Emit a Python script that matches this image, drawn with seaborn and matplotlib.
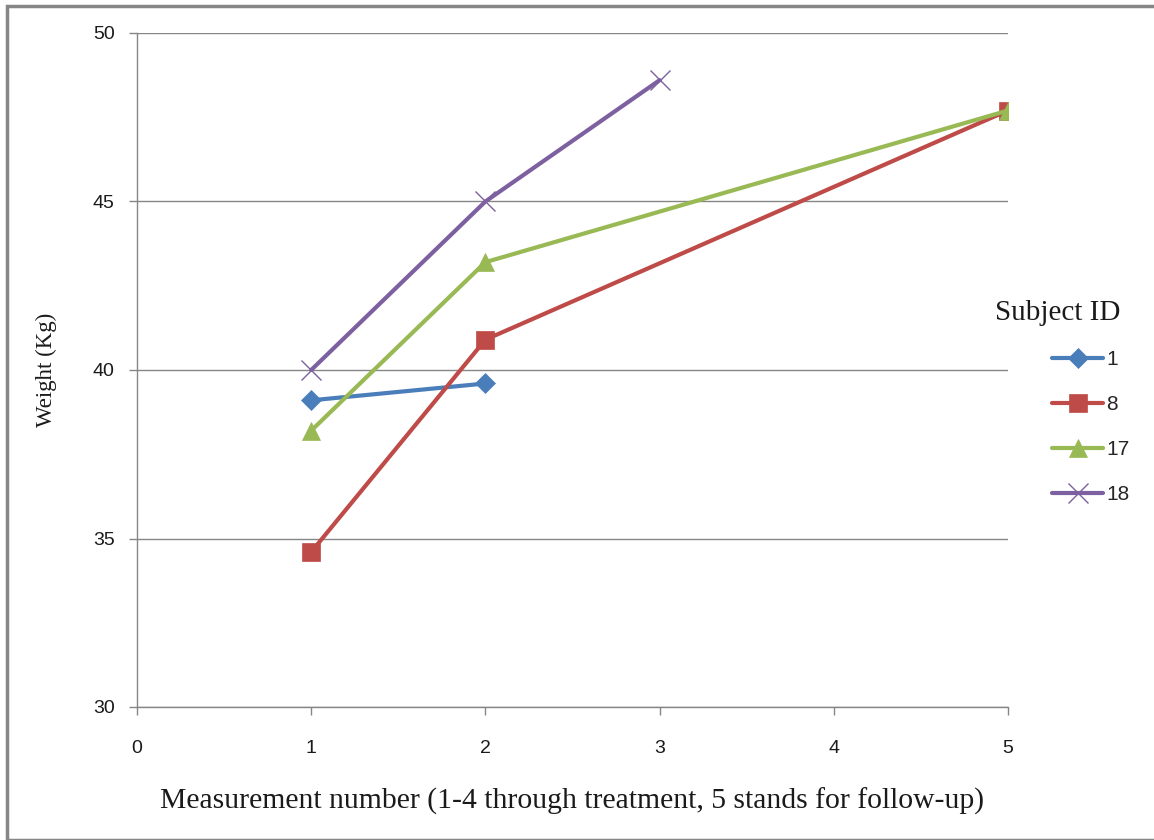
import matplotlib
matplotlib.use("Agg")
import matplotlib.pyplot as plt
import seaborn as sns
import pandas as pd
from matplotlib.patches import Rectangle

# Data
subject_ids = ["1", "8", "17", "18"]
x_1 = [1, 2];        y_1 = [39.1, 39.6]
x_8 = [1, 2, 5];     y_8 = [34.6, 40.9, 47.7]
x_17 = [1, 2, 5];    y_17 = [38.2, 43.2, 47.7]
x_18 = [1, 2, 3];    y_18 = [40.0, 45.0, 48.6]
x_ticks = [0, 1, 2, 3, 4, 5]
y_ticks = [30, 35, 40, 45, 50]

rows = []
for sid, xs, ys in zip(subject_ids, [x_1, x_8, x_17, x_18], [y_1, y_8, y_17, y_18]):
    for a, b in zip(xs, ys):
        rows.append({"Subject ID": sid, "x": a, "y": b})
df = pd.DataFrame(rows)

sns.set_style("white")
plt.rcParams["font.family"] = ["Liberation Sans", "DejaVu Sans"]

fig = plt.figure(figsize=(11.54, 8.40), dpi=100)
ax = fig.add_axes([137/1154, 1-707/840, (1008-137)/1154, (707-33)/840])

palette = {"1": "#4A7EBB", "8": "#BE4B48", "17": "#98B954", "18": "#7D60A0"}
markers = {"1": "D", "8": "s", "17": "^", "18": "x"}
sizes_map = {"1": 10, "8": 12.5, "17": 13, "18": 14}

for sid in subject_ids:
    sub = df[df["Subject ID"] == sid]
    sns.lineplot(data=sub, x="x", y="y", ax=ax, color=palette[sid], marker=markers[sid],
                 markersize=sizes_map[sid], linewidth=3, label=sid,
                 markeredgecolor=palette[sid],
                 markeredgewidth=1 if sid == "18" else 0.5, zorder=3)

ax.set_xlim(0, 5)
ax.set_ylim(30, 50)
ax.set_xticks(x_ticks)
ax.set_yticks(y_ticks)
ax.yaxis.grid(True, color="#868686", linewidth=1)
ax.xaxis.grid(False)
for s in ["top", "right"]:
    ax.spines[s].set_visible(False)
for s in ["left", "bottom"]:
    ax.spines[s].set_color("#868686")
    ax.spines[s].set_linewidth(1)
ax.tick_params(axis="both", which="both", direction="out", length=6, width=1,
               color="#868686", labelsize=14, labelcolor="#1a1a1a",
               bottom=True, left=True)
ax.tick_params(axis="x", pad=18)
ax.tick_params(axis="y", pad=10)

ax.set_xlabel("Measurement number (1-4 through treatment, 5 stands for follow-up)",
              family="Liberation Serif", fontsize=21.3, labelpad=22, color="#1a1a1a")
ax.set_ylabel("Weight (Kg)", family="Liberation Serif", fontsize=16.5, labelpad=26, color="#1a1a1a")

fig.text(995/1154, 1-313/840, "Subject ID", family="Liberation Serif", fontsize=21,
         ha="left", va="center", color="#1a1a1a")

leg = ax.legend(loc="upper left", bbox_to_anchor=(1052/1154, 1-350/840),
                bbox_transform=fig.transFigure, frameon=False, fontsize=15,
                handlelength=2.45, labelspacing=1.25, handletextpad=0.15,
                borderaxespad=0, borderpad=0)
for h in leg.legend_handles:
    h.set_linewidth(3)

fig.patches.append(Rectangle((7/1154, 0), 1.2, 1-6/840, transform=fig.transFigure,
                             fill=False, edgecolor="#868686", linewidth=2.5))

fig.savefig("out.png", dpi=100)
